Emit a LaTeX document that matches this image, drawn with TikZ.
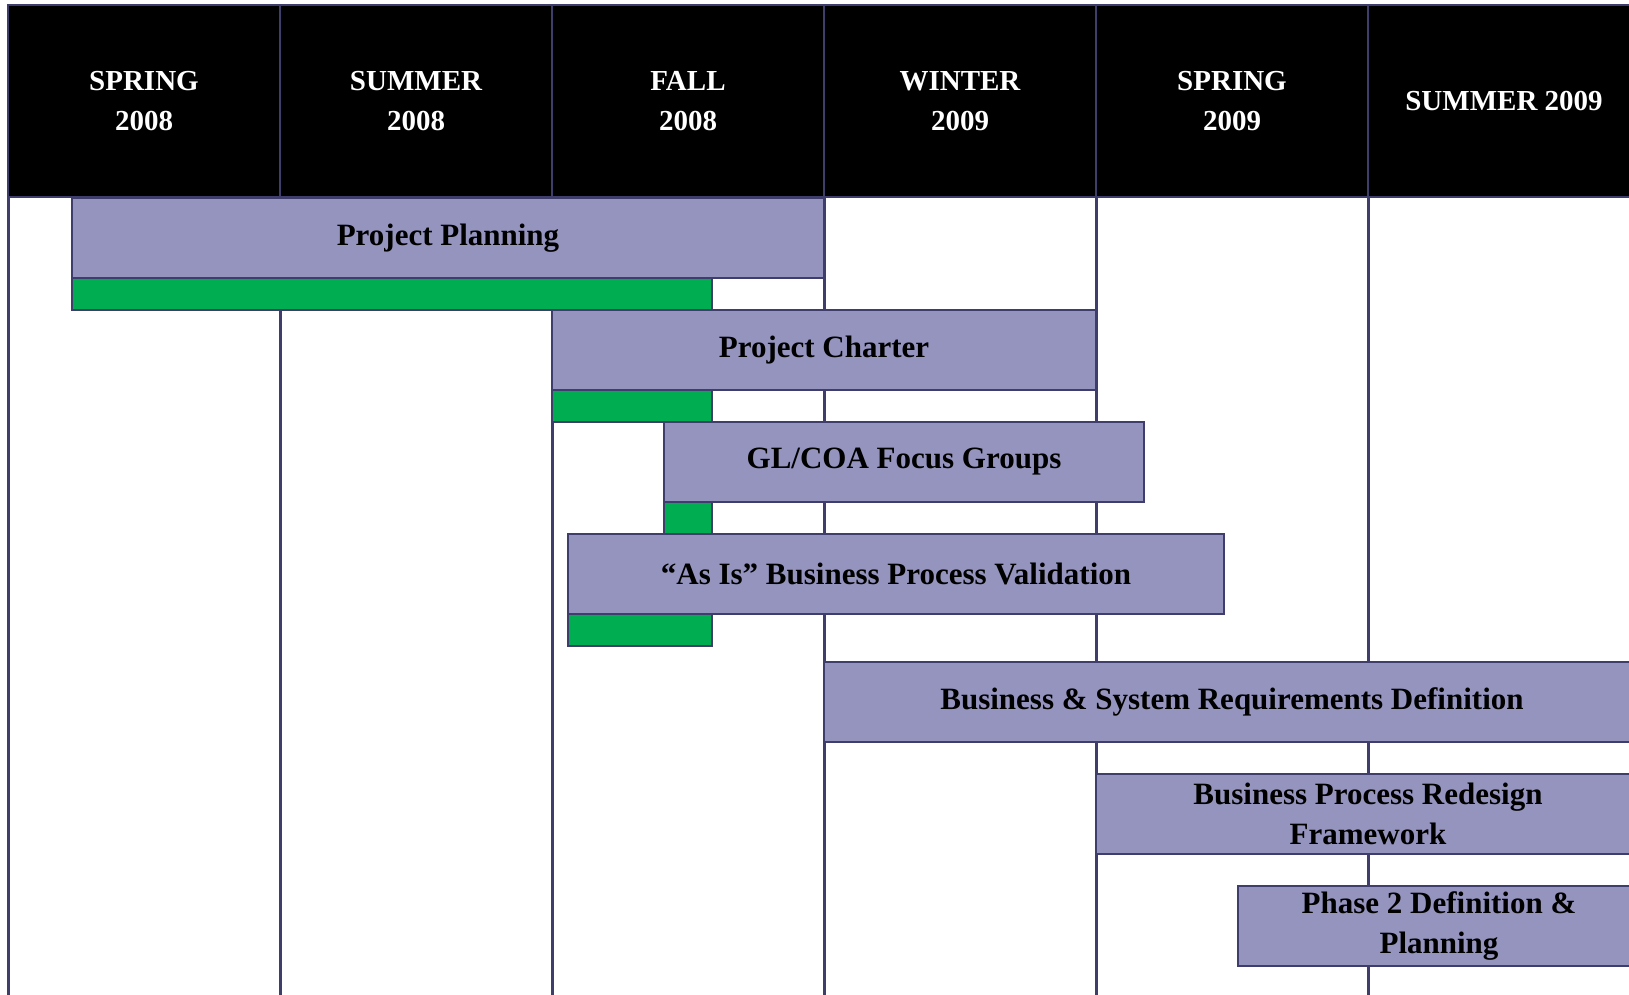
\documentclass[tikz,border=0pt]{standalone}
\usepackage{fontspec}
\setmainfont{Liberation Serif}
\definecolor{gridnavy}{RGB}{63,61,107}
\definecolor{tasklav}{RGB}{148,148,190}
\definecolor{donegreen}{RGB}{0,173,80}
\begin{document}
\begin{tikzpicture}[x=1pt,y=-1pt,
  every node/.style={font=\fontsize{31}{39.5}\selectfont\bfseries,align=center,inner sep=0pt,outer sep=0pt},
  season/.style={draw=gridnavy,line width=2pt,fill=black,text=white,font=\fontsize{29}{39.5}\selectfont\bfseries,minimum width=272pt,minimum height=192pt,anchor=north west},
  task/.style={draw=gridnavy,line width=2pt,fill=tasklav,minimum height=80pt,anchor=north west},
  done/.style={draw=gridnavy,line width=2pt,fill=donegreen,minimum height=32pt,anchor=north west},
  gridline/.style={draw=gridnavy,line width=3pt}]
\useasboundingbox (0,0) rectangle (1629,994);
\clip (0,0) rectangle (1629,994);
% seasons across the top
\foreach \i/\txt in {0/SPRING\\2008,1/SUMMER\\2008,2/FALL\\2008,3/WINTER\\2009,4/SPRING\\2009,5/SUMMER 2009}
  \node[season] (s\i) at (8+272*\i,5) {\txt};
\foreach \i in {0,...,5}
  \draw[gridline] (s\i.south west) -- (s\i.south west |- 0,1000);
% tasks
\node[task,minimum width=752pt] (plan) at (72,198) {Project Planning};
\node[done,minimum width=640pt] (plandone) at (72,278) {};
\node[task,minimum width=544pt] (charter) at (552,310) {Project Charter};
\node[done,minimum width=160pt] (charterdone) at (552,390) {};
\node[task,minimum width=480pt] (focus) at (664,422) {GL/COA Focus Groups};
\node[done,minimum width=48pt] (focusdone) at (664,502) {};
\node[task,minimum width=656pt] (asis) at (568,534) {“As Is” Business Process Validation};
\node[done,minimum width=144pt] (asisdone) at (568,614) {};
\node[task,minimum width=816pt] (req) at (824,662) {Business \& System Requirements Definition};
\node[task,minimum width=544pt] (redesign) at (1096,774) {Business Process Redesign\\Framework};
\node[task,minimum width=402pt] (phase) at (1238,886) {Phase 2 Definition \&\\Planning};
\end{tikzpicture}
\end{document}
